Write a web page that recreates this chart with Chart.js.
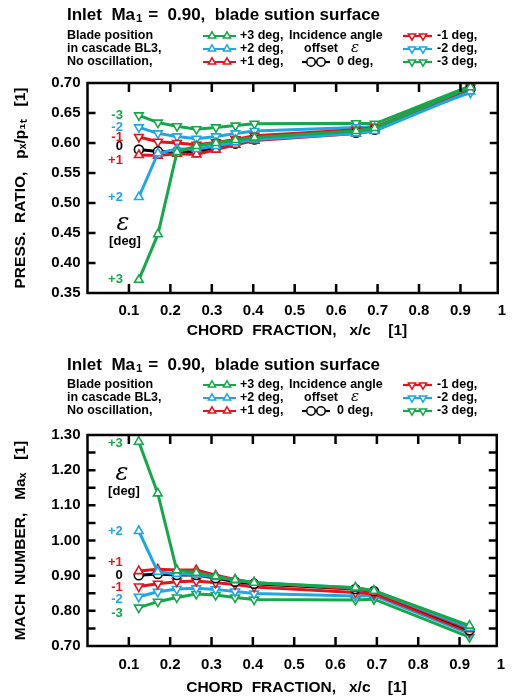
<!DOCTYPE html>
<html>
<head>
<meta charset="utf-8">
<script src="https://cdn.jsdelivr.net/npm/chart.js@4.4.1/dist/chart.umd.min.js"></script>
<style>
  body { margin: 0; background: #fff; width: 515px; height: 700px; overflow: hidden; }
  canvas { position: absolute; left: 0; }
  #prChart { top: 0; }
  #machChart { top: 345px; }
</style>
</head>
<body>
<canvas id="prChart" width="515" height="345"></canvas>
<canvas id="machChart" width="515" height="355"></canvas>
<script>
// chord positions of the pressure taps (x/c)
const chordX = [0.124, 0.17, 0.216, 0.263, 0.31, 0.357, 0.403, 0.648, 0.693, 0.924];
const xTicks = [0.1, 0.2, 0.3, 0.4, 0.5, 0.6, 0.7, 0.8, 0.9, 1];

const seriesNames = ['+3 deg,', '+2 deg,', '+1 deg,', '0 deg,', '-1 deg,', '-2 deg,', '-3 deg,'];
const seriesTags = ['+3', '+2', '+1', '0', '-1', '-2', '-3'];

// pressure ratio p_x / p_1t
const prTicks = [0.35, 0.40, 0.45, 0.50, 0.55, 0.60, 0.65, 0.70];
const prP3 = [0.372, 0.448, 0.585, 0.595, 0.600, 0.605, 0.609, 0.620, 0.625, 0.693];
const prP2 = [0.510, 0.583, 0.590, 0.590, 0.595, 0.601, 0.606, 0.616, 0.620, 0.686];
const prP1 = [0.580, 0.579, 0.582, 0.581, 0.589, 0.597, 0.604, 0.616, 0.621, 0.692];
const prZ = [0.589, 0.586, 0.586, 0.585, 0.592, 0.599, 0.606, 0.617, 0.622, 0.690];
const prM1 = [0.610, 0.602, 0.600, 0.597, 0.601, 0.606, 0.612, 0.622, 0.626, 0.692];
const prM2 = [0.626, 0.616, 0.611, 0.607, 0.611, 0.616, 0.620, 0.626, 0.627, 0.684];
const prM3 = [0.646, 0.634, 0.628, 0.623, 0.626, 0.629, 0.632, 0.633, 0.632, 0.695];

// Mach number Ma_x
const machTicks = [0.70, 0.75, 0.80, 0.85, 0.90, 0.95, 1.00, 1.05, 1.10, 1.15, 1.20, 1.25, 1.30];
const machLabels = [0.70, 0.80, 0.90, 1.00, 1.10, 1.20, 1.30];
const maP3 = [1.281, 1.134, 0.915, 0.908, 0.898, 0.888, 0.880, 0.866, 0.857, 0.758];
const maP2 = [1.027, 0.911, 0.905, 0.903, 0.896, 0.887, 0.880, 0.866, 0.857, 0.752];
const maP1 = [0.913, 0.918, 0.916, 0.916, 0.901, 0.889, 0.880, 0.863, 0.855, 0.748];
const maZ = [0.901, 0.905, 0.902, 0.902, 0.893, 0.883, 0.877, 0.862, 0.856, 0.745];
const maM1 = [0.869, 0.877, 0.883, 0.885, 0.880, 0.875, 0.868, 0.852, 0.848, 0.740];
const maM2 = [0.840, 0.854, 0.862, 0.864, 0.861, 0.855, 0.849, 0.842, 0.843, 0.735];
const maM3 = [0.809, 0.826, 0.838, 0.848, 0.845, 0.838, 0.832, 0.831, 0.833, 0.725];

const GREEN = '#14a84a', BLUE = '#1ea6e8', RED = '#e3141c', BLACK = '#000000';
const seriesColors = [GREEN, BLUE, RED, BLACK, RED, BLUE, GREEN];
const seriesMarks = ['up', 'up', 'up', 'circle', 'down', 'down', 'down'];
const FONT = '"Liberation Sans", Arial, sans-serif';

function makeDatasets(values) {
  return values.map((vals, i) => ({
    label: seriesNames[i],
    data: chordX.map((x, j) => ({ x: x, y: vals[j] })),
    borderColor: seriesColors[i],
    backgroundColor: '#fff',
    borderWidth: 3,
    pointStyle: seriesMarks[i] === 'circle' ? 'circle' : 'triangle',
    rotation: seriesMarks[i] === 'down' ? 180 : 0,
    pointRadius: seriesMarks[i] === 'circle' ? 4.5 : 5,
    pointBorderWidth: 1.6,
    pointBackgroundColor: '#fff',
    pointBorderColor: seriesColors[i],
    tension: 0
  }));
}

function drawMarker(ctx, x, y, kind, color, r) {
  ctx.save();
  ctx.fillStyle = '#fff';
  ctx.strokeStyle = color;
  ctx.lineWidth = 1.5;
  ctx.beginPath();
  if (kind === 'circle') {
    ctx.arc(x, y, r, 0, Math.PI * 2);
  } else {
    const s = kind === 'up' ? 1 : -1;
    ctx.moveTo(x, y - s * r);
    ctx.lineTo(x + 0.87 * r, y + s * 0.5 * r);
    ctx.lineTo(x - 0.87 * r, y + s * 0.5 * r);
    ctx.closePath();
  }
  ctx.fill();
  ctx.stroke();
  ctx.restore();
}

function legendSample(ctx, x0, x1, y, i) {
  ctx.save();
  ctx.strokeStyle = seriesColors[i];
  ctx.lineWidth = 2.2;
  ctx.beginPath();
  ctx.moveTo(x0, y);
  ctx.lineTo(x1, y);
  ctx.stroke();
  ctx.restore();
  drawMarker(ctx, x0 + 9, y, seriesMarks[i], seriesColors[i], 4.2);
  drawMarker(ctx, x1 - 9, y, seriesMarks[i], seriesColors[i], 4.2);
}

// headline, legend block, frame, inward ticks and the in-plot labels
function decorPlugin(cfg) {
  return {
    id: 'decor',
    afterDraw(chart) {
      const ctx = chart.ctx;
      const a = chart.chartArea;
      const xs = chart.scales.x, ys = chart.scales.y;
      ctx.save();

      // frame
      ctx.strokeStyle = '#000';
      ctx.lineWidth = 2.5;
      ctx.strokeRect(a.left, a.top, a.right - a.left, a.bottom - a.top);

      // inward ticks
      ctx.beginPath();
      xs.ticks.forEach(t => {
        if (t.value >= xs.max) return;
        const px = xs.getPixelForValue(t.value);
        ctx.moveTo(px, a.bottom); ctx.lineTo(px, a.bottom - 9);
        ctx.moveTo(px, a.top); ctx.lineTo(px, a.top + 9);
      });
      ys.ticks.forEach(t => {
        if (t.value <= ys.min || t.value >= ys.max) return;
        const py = ys.getPixelForValue(t.value);
        ctx.moveTo(a.left, py); ctx.lineTo(a.left + 8, py);
        ctx.moveTo(a.right, py); ctx.lineTo(a.right - 8, py);
      });
      ctx.stroke();

      // headline
      ctx.fillStyle = '#000';
      ctx.textBaseline = 'middle';
      ctx.textAlign = 'left';
      ctx.font = 'bold 17px ' + FONT;
      let tx = 67;
      const ty = cfg.titleY;
      ctx.fillText('Inlet  Ma', tx, ty);
      tx += ctx.measureText('Inlet  Ma').width + 1;
      ctx.font = 'bold 11.5px ' + FONT;
      ctx.fillText('1', tx, ty + 4);
      tx += ctx.measureText('1').width + 1;
      ctx.font = 'bold 17px ' + FONT;
      ctx.fillText(' =  0.90,  blade sution surface', tx, ty);

      // legend block
      const r = cfg.rows;
      ctx.font = 'bold 12.5px ' + FONT;
      ctx.fillText('Blade position', 67, r[0]);
      ctx.fillText('in cascade BL3,', 67, r[1]);
      ctx.fillText('No oscillation,', 67, r[2]);
      [0, 1, 2].forEach(k => {
        legendSample(ctx, 203, 236, r[k], k);
        ctx.fillStyle = '#000';
        ctx.fillText(seriesNames[k], 240, r[k]);
      });
      ctx.fillText('Incidence angle', 289, r[0]);
      ctx.fillText('offset', 304, r[1]);
      ctx.font = 'italic 15px "DejaVu Serif", serif';
      ctx.fillText('\u03B5', 351, r[1] - 1);
      ctx.font = 'bold 12.5px ' + FONT;
      legendSample(ctx, 302, 330, r[2], 3);
      ctx.fillStyle = '#000';
      ctx.fillText(seriesNames[3], 337, r[2]);
      [4, 5, 6].forEach((k, n) => {
        legendSample(ctx, 403, 432, r[n], k);
        ctx.fillStyle = '#000';
        ctx.fillText(seriesNames[k], 437, r[n]);
      });

      // offset tags next to the first tap
      ctx.textAlign = 'right';
      ctx.font = 'bold 13px ' + FONT;
      const lx = xs.getPixelForValue(chordX[0]) - 16;
      cfg.values.forEach((vals, i) => {
        ctx.fillStyle = seriesColors[i];
        ctx.fillText(seriesTags[i], lx, ys.getPixelForValue(vals[0]) + cfg.tagShift[i]);
      });

      // epsilon [deg]
      ctx.fillStyle = '#000';
      ctx.textAlign = 'center';
      ctx.font = 'italic 24px "DejaVu Serif", serif';
      ctx.fillText('\u03B5', cfg.eps[0], cfg.eps[1]);
      ctx.font = 'bold 13px ' + FONT;
      ctx.fillText('[deg]', cfg.eps[0] + 2, cfg.eps[1] + 17);
      ctx.restore();
    }
  };
}

function makeChart(id, values, yMin, yMax, yTicks, yLabels, yTitle, geo, decor) {
  const ctx = document.getElementById(id).getContext('2d');
  return new Chart(ctx, {
    type: 'line',
    data: { datasets: makeDatasets(values) },
    options: {
      responsive: false,
      animation: false,
      devicePixelRatio: 1,
      layout: { padding: { top: geo.top, right: 6, left: 0, bottom: 0 } },
      plugins: { legend: { display: false }, tooltip: { enabled: false }, title: { display: false } },
      scales: {
        x: {
          type: 'linear', min: 0, max: 0.99,
          afterBuildTicks: s => { s.ticks = xTicks.map(v => ({ value: v })); },
          afterFit: s => { s.height = geo.xHeight; },
          grid: { display: false, drawTicks: false },
          border: { display: false },
          ticks: {
            autoSkip: false, maxRotation: 0, padding: geo.xPad, color: '#000',
            font: { family: FONT, size: 15, weight: 'bold' },
            callback: v => (v === 1 ? '1' : v.toFixed(1))
          },
          title: {
            display: true, text: '  CHORD  FRACTION,   x/c    [1]', color: '#000',
            font: { family: FONT, size: 15.5, weight: 'bold' },
            padding: { top: 0, bottom: geo.xTitlePad }
          }
        },
        y: {
          type: 'linear', min: yMin, max: yMax,
          afterBuildTicks: s => { s.ticks = yTicks.map(v => ({ value: v })); },
          afterFit: s => { s.width = 87.5; },
          grid: { display: false, drawTicks: false },
          border: { display: false },
          ticks: {
            autoSkip: false, padding: 7, color: '#000',
            font: { family: FONT, size: 15, weight: 'bold' },
            callback: v => (yLabels.some(l => Math.abs(l - v) < 1e-6) ? v.toFixed(2) : '')
          },
          title: {
            display: true, text: yTitle, color: '#000',
            font: { family: FONT, size: 15.5, weight: 'bold' },
            padding: { top: 11, bottom: 0 }
          }
        }
      }
    },
    plugins: [decorPlugin(decor)]
  });
}

const prValues = [prP3, prP2, prP1, prZ, prM1, prM2, prM3];
const maValues = [maP3, maP2, maP1, maZ, maM1, maM2, maM3];

makeChart('prChart', prValues, 0.35, 0.70, prTicks, prTicks,
  'PRESS.  RATIO,   p\u2093/p\u2081\u209C   [1]',
  { top: 83, xHeight: 52, xPad: 9, xTitlePad: 5 },
  { titleY: 15, rows: [36, 49, 62], values: prValues,
    tagShift: [0, 0, 5, -3, 0, 0, 0], eps: [123, 224] });

makeChart('machChart', maValues, 0.70, 1.30, machTicks, machLabels,
  'MACH  NUMBER,   Ma\u2093   [1]',
  { top: 90, xHeight: 54, xPad: 10, xTitlePad: 3 },
  { titleY: 20, rows: [40, 53, 66], values: maValues,
    tagShift: [2, 0, -9, 0, 1, 3, 6], eps: [122, 129] });
</script>
</body>
</html>
